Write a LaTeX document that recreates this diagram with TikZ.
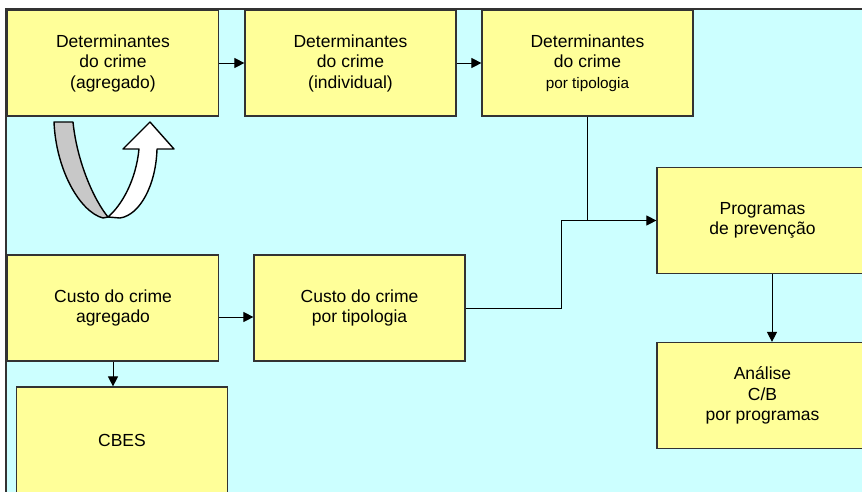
\documentclass[tikz,border=0pt]{standalone}
\usepackage{fontspec}
\setmainfont{Liberation Sans}
\usetikzlibrary{arrows.meta}
\definecolor{bgcyan}{HTML}{CCFFFF}
\definecolor{boxyel}{HTML}{FFFF99}
\definecolor{edge}{HTML}{333333}
\definecolor{backgray}{HTML}{C8C8C8}
\tikzset{
  blk/.style={draw=edge, line width=1.2pt, fill=boxyel, inner sep=0pt,
    minimum width=211pt, minimum height=106pt, align=center,
    font=\fontsize{17.5}{20.5}\selectfont},
  arr/.style={draw=black, line width=1pt, -{Triangle[length=10pt,width=10pt]}},
  conn/.style={draw=black, line width=1pt},
  uturn/.style={draw=black, line width=1.4pt, line join=round}
}
\newcommand{\smalltxt}{\fontsize{15.3}{18}\selectfont}
\begin{document}
\begin{tikzpicture}[x=1pt,y=-1pt]
\useasboundingbox (0,0) rectangle (862,491);
\clip (0,0) rectangle (862,491);
\fill[white] (0,0) rectangle (862,491);
\draw[draw=edge, line width=2.5pt, fill=bgcyan] (6,9) rectangle (890,520);

\node[blk] (da) at (113,63) {Determinantes\\do crime\\(agregado)};
\node[blk] (di) at (350.5,63) {Determinantes\\do crime\\(individual)};
\node[blk] (dt) at (587.5,63) {Determinantes\\do crime\\{\smalltxt por tipologia}};
\node[blk] (prog) at (762.5,220.5) {Programas\\de prevenção};
\node[blk] (an) at (762.5,395.5) {Análise\\C/B\\por programas};
\node[blk] (ca) at (113,308) {Custo do crime\\agregado};
\node[blk] (ct) at (359.5,308) {Custo do crime\\por tipologia};
\node[blk] (cbes) at (122,440) {CBES};

\draw[arr] (da.east) -- (di.west);
\draw[arr] (di.east) -- (dt.west);
\draw[arr] ([yshift=-9pt]ca.east) -- ([yshift=-9pt]ct.west);
\draw[arr] (ca.south) -- (ca.south |- cbes.north);
\draw[arr] ([xshift=9.5pt]prog.south) -- ([xshift=9.5pt]an.north);
\coordinate (bend) at (561,308);
\draw[arr] (ct.east) -- (bend) |- (prog.west);
\draw[conn] (dt.south) |- (prog.west);

% U-turn arrow
\draw[uturn, fill=backgray] (54,122) -- (73,122)
  .. controls (77,162) and (94,200) .. (108,217)
  -- (103,218)
  .. controls (80,212) and (56,170) .. (54,122) -- cycle;
\draw[uturn, fill=white] (108,217)
  .. controls (122,205) and (136,180) .. (139,149)
  -- (123,149) -- (150,122) -- (174,149) -- (157,149)
  .. controls (156,185) and (140,215) .. (120,218)
  -- cycle;
\end{tikzpicture}
\end{document}
